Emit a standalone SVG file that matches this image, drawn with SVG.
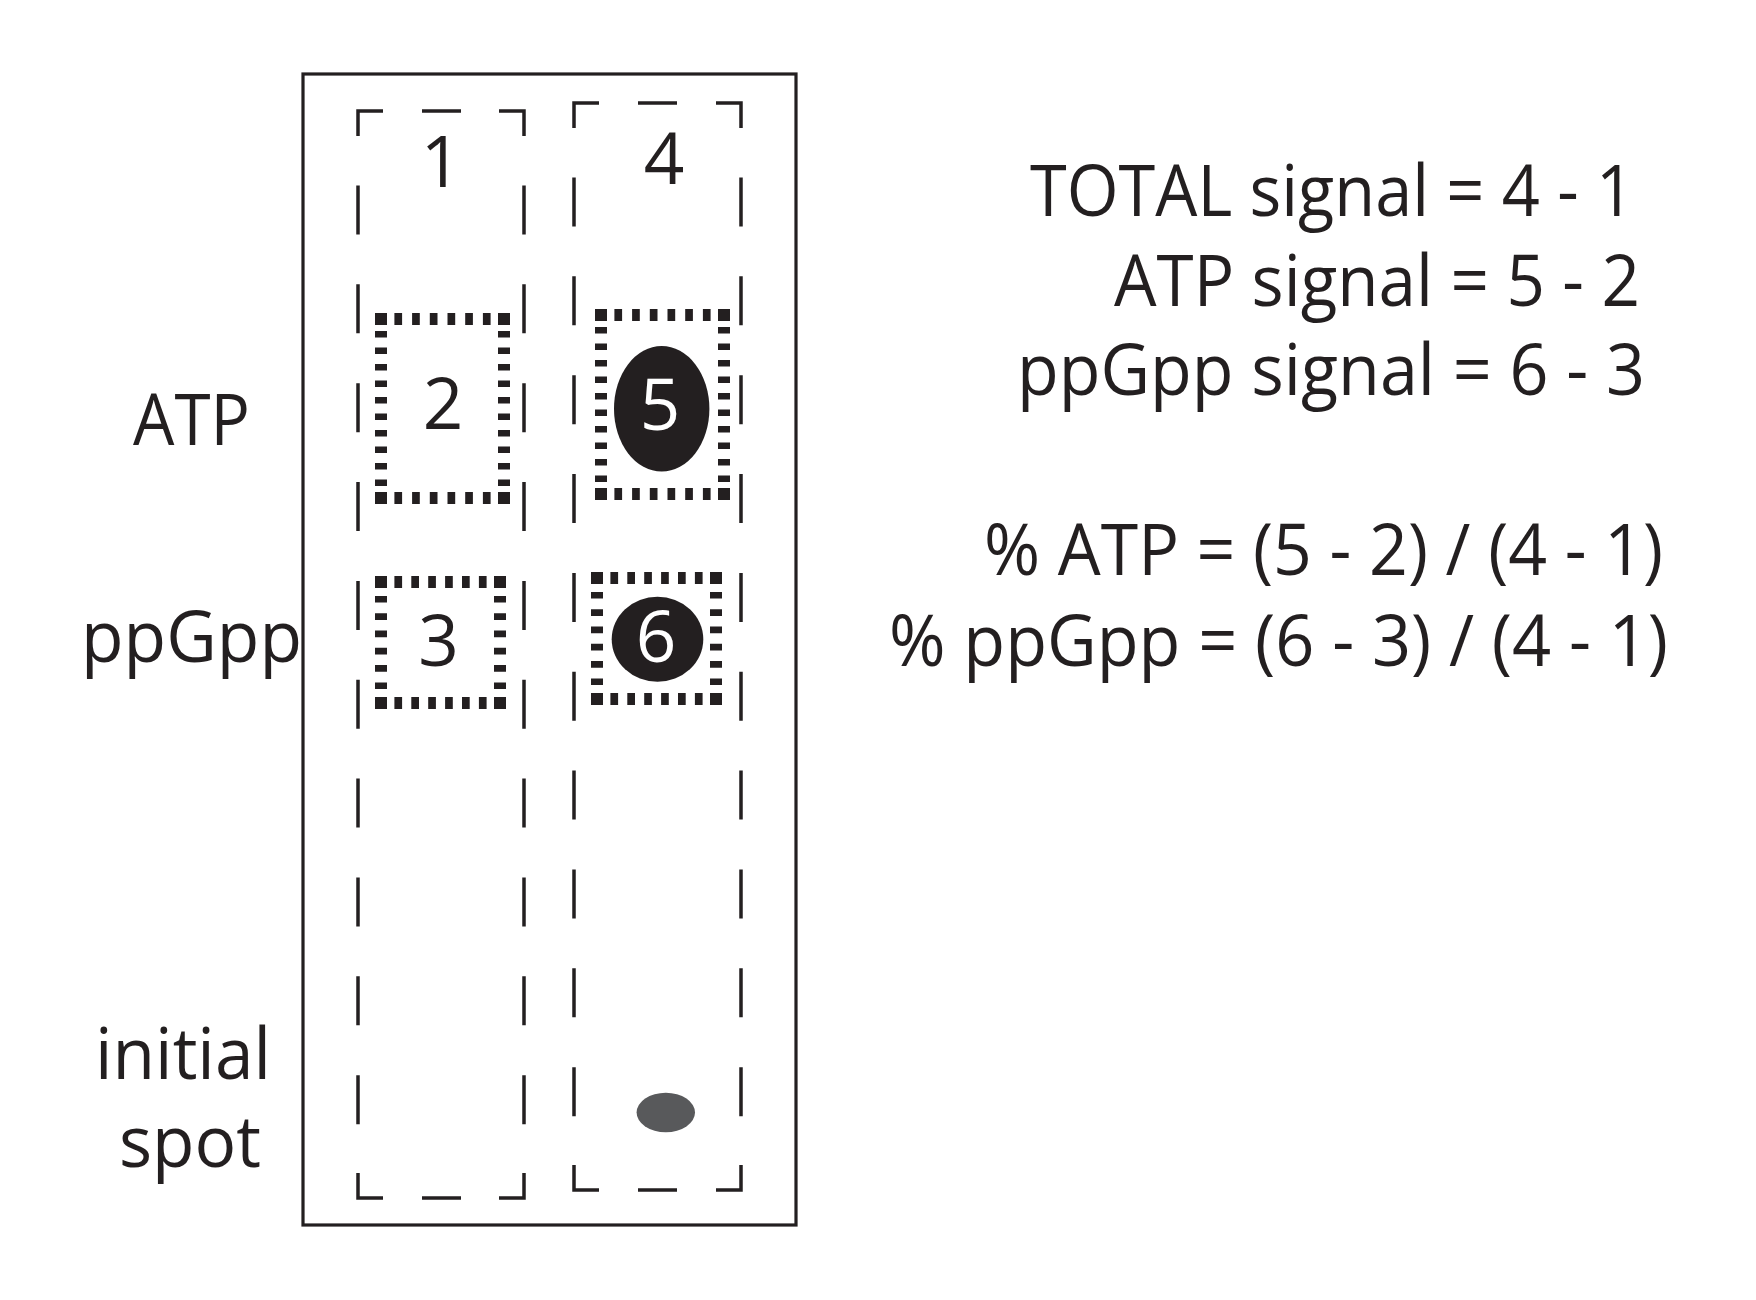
<svg xmlns="http://www.w3.org/2000/svg" width="1756" height="1300" viewBox="0 0 1756 1300">
<style>
  .txt { font-family: "Open Sans", "Noto Sans", "DejaVu Sans", sans-serif; font-size: 71px; fill: #231f20; }
  .num { text-anchor: middle; }
  .white { fill: #ffffff; }
  .lane { fill: none; stroke: #231f20; stroke-width: 3.5; stroke-linejoin: miter; }
  .laneDash { fill: none; stroke: #231f20; stroke-width: 3.5; stroke-dasharray: 49 49.85; }
  .dot { fill: none; stroke: #231f20; stroke-width: 12; }
  .corner { fill: #231f20; }
  .spot { fill: #231f20; }
</style>
<rect width="1756" height="1300" fill="#ffffff"/>

<g id="plate">
  <rect x="303" y="74" width="493" height="1151" fill="none" stroke="#231f20" stroke-width="3.2"/>
</g>

<g id="lane1">
  <path class="lane" d="M358,136 V111 H383 M422,111 H461 M499,111 H524 V136 M358,1173 V1198 H383 M422,1198 H461 M499,1198 H524 V1173"/>
  <line class="laneDash" x1="358" y1="185.5" x2="358" y2="1124.2"/>
  <line class="laneDash" x1="524" y1="185.5" x2="524" y2="1124.2"/>
  <text class="txt num" x="441" y="186.5">1</text>
</g>

<g id="lane4">
  <path class="lane" d="M574,128 V103 H599 M638,103 H677 M716,103 H741 V128 M574,1165 V1190 H599 M638,1190 H677 M716,1190 H741 V1165"/>
  <line class="laneDash" x1="574" y1="177.5" x2="574" y2="1116.2"/>
  <line class="laneDash" x1="741" y1="177.5" x2="741" y2="1116.2"/>
  <text class="txt num" x="664" y="183.5">4</text>
</g>

<g id="box2">
  <path class="corner" d="M375,313 h12 v12 h-12 z M498,313 h12 v12 h-12 z M375,492 h12 v12 h-12 z M498,492 h12 v12 h-12 z"/>
  <line class="dot" x1="387" y1="319" x2="498" y2="319" stroke-dasharray="7.7 10" stroke-dashoffset="-7.4"/>
  <line class="dot" x1="387" y1="498" x2="498" y2="498" stroke-dasharray="7.7 10" stroke-dashoffset="-7.4"/>
  <line class="dot" x1="381" y1="325" x2="381" y2="492" stroke-dasharray="6.5 10" stroke-dashoffset="-6"/>
  <line class="dot" x1="504" y1="325" x2="504" y2="492" stroke-dasharray="6.5 10" stroke-dashoffset="-6"/>
  <text class="txt num" x="443" y="428.5">2</text>
</g>

<g id="box5">
  <path class="corner" d="M595,309 h12 v12 h-12 z M718,309 h12 v12 h-12 z M595,488 h12 v12 h-12 z M718,488 h12 v12 h-12 z"/>
  <line class="dot" x1="607" y1="315" x2="718" y2="315" stroke-dasharray="7.7 10" stroke-dashoffset="-7.4"/>
  <line class="dot" x1="607" y1="494" x2="718" y2="494" stroke-dasharray="7.7 10" stroke-dashoffset="-7.4"/>
  <line class="dot" x1="601" y1="321" x2="601" y2="488" stroke-dasharray="6.5 10" stroke-dashoffset="-6"/>
  <line class="dot" x1="724" y1="321" x2="724" y2="488" stroke-dasharray="6.5 10" stroke-dashoffset="-6"/>
  <ellipse class="spot" cx="661.7" cy="408.8" rx="47.7" ry="62.8"/>
  <text class="txt num white" x="660" y="430">5</text>
</g>

<g id="box3">
  <path class="corner" d="M375,576 h12 v12 h-12 z M494,576 h12 v12 h-12 z M375,697 h12 v12 h-12 z M494,697 h12 v12 h-12 z"/>
  <line class="dot" x1="387" y1="582" x2="494" y2="582" stroke-dasharray="7.7 9.2" stroke-dashoffset="-7.4"/>
  <line class="dot" x1="387" y1="703" x2="494" y2="703" stroke-dasharray="7.7 9.2" stroke-dashoffset="-7.4"/>
  <line class="dot" x1="381" y1="588" x2="381" y2="697" stroke-dasharray="6.7 10.6" stroke-dashoffset="-7.9"/>
  <line class="dot" x1="500" y1="588" x2="500" y2="697" stroke-dasharray="6.7 10.6" stroke-dashoffset="-7.9"/>
  <text class="txt num" x="438.5" y="665.5">3</text>
</g>

<g id="box6">
  <path class="corner" d="M591,572 h12 v12 h-12 z M710,572 h12 v12 h-12 z M591,693 h12 v12 h-12 z M710,693 h12 v12 h-12 z"/>
  <line class="dot" x1="603" y1="578" x2="710" y2="578" stroke-dasharray="7.7 9.2" stroke-dashoffset="-7.4"/>
  <line class="dot" x1="603" y1="699" x2="710" y2="699" stroke-dasharray="7.7 9.2" stroke-dashoffset="-7.4"/>
  <line class="dot" x1="597" y1="584" x2="597" y2="693" stroke-dasharray="6.7 10.6" stroke-dashoffset="-7.9"/>
  <line class="dot" x1="716" y1="584" x2="716" y2="693" stroke-dasharray="6.7 10.6" stroke-dashoffset="-7.9"/>
  <ellipse class="spot" cx="657.5" cy="639.2" rx="45.8" ry="42.5"/>
  <text class="txt num white" x="656" y="661.5">6</text>
</g>

<g id="initial-spot">
  <ellipse cx="665.8" cy="1112.5" rx="29.2" ry="19.8" fill="#58595b"/>
</g>

<g id="row-labels">
  <text class="txt" x="133" y="445" textLength="117" lengthAdjust="spacingAndGlyphs">ATP</text>
  <text class="txt" x="81" y="661.5" textLength="221" lengthAdjust="spacingAndGlyphs">ppGpp</text>
  <text class="txt" x="95" y="1078.5" textLength="176" lengthAdjust="spacingAndGlyphs">initial</text>
  <text class="txt" x="119" y="1166.5" textLength="142" lengthAdjust="spacingAndGlyphs">spot</text>
</g>

<g id="equations">
  <text class="txt" x="1030" y="215.5" textLength="604" lengthAdjust="spacingAndGlyphs">TOTAL signal = 4 - 1</text>
  <text class="txt" x="1114" y="305.5" textLength="526" lengthAdjust="spacingAndGlyphs">ATP signal = 5 - 2</text>
  <text class="txt" x="1017" y="395" textLength="628" lengthAdjust="spacingAndGlyphs">ppGpp signal = 6 - 3</text>
  <text class="txt" x="984" y="575" textLength="679" lengthAdjust="spacingAndGlyphs">% ATP = (5 - 2) / (4 - 1)</text>
  <text class="txt" x="889" y="665.5" textLength="779" lengthAdjust="spacingAndGlyphs">% ppGpp = (6 - 3) / (4 - 1)</text>
</g>
</svg>
